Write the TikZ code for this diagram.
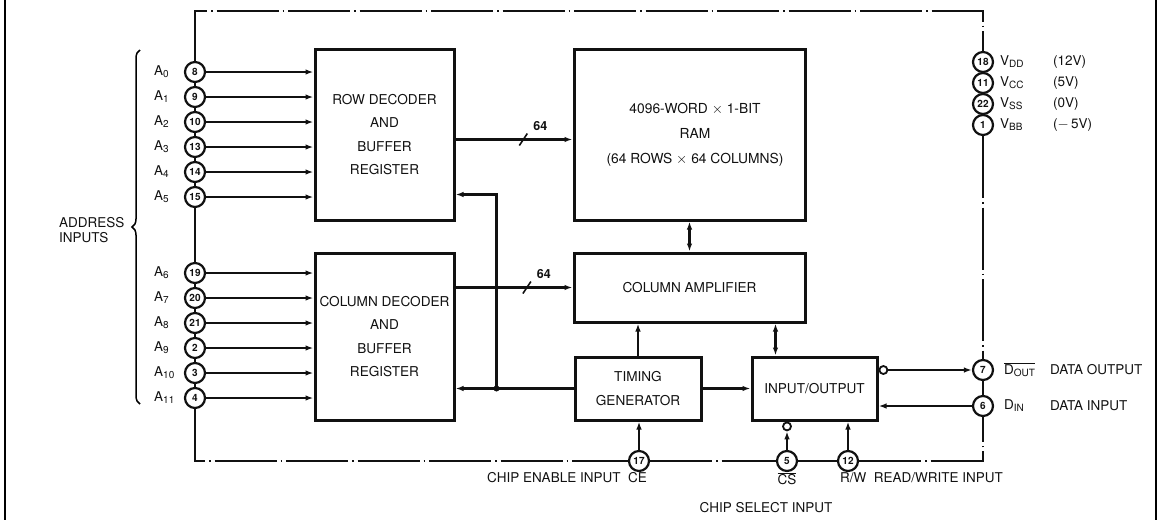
\documentclass[tikz,border=0pt]{standalone}
\usepackage{fontspec}
\setmainfont{TeX Gyre Heros}
\usepackage{tikz}
\usetikzlibrary{arrows.meta,positioning,calc,decorations.pathreplacing}
\definecolor{ink}{HTML}{111111}
\newcommand{\pinsub}[1]{\raisebox{-0.3ex}{\fontsize{10}{10}\selectfont #1}}
\tikzset{
  block/.style={draw=ink,line width=3pt,inner sep=0pt,align=center,font=\fontsize{13.6}{23.5}\selectfont},
  pin/.style={circle,draw=ink,line width=2.2pt,minimum size=20pt,inner sep=0pt,fill=white,font=\fontsize{10}{10}\selectfont\bfseries},
  lbl/.style={font=\fontsize{13.5}{15}\selectfont,inner sep=0pt},
  wire/.style={draw=ink,line width=2.1pt},
  pkg/.style={wire,dash pattern=on 62pt off 4pt on 1.5pt off 4pt},
  sig/.style={wire,-{Latex[length=8pt,width=5.5pt]}},
  both/.style={wire,{Latex[length=8pt,width=5.5pt]}-{Latex[length=8pt,width=5.5pt]}},
  bubble/.style={circle,draw=ink,line width=1.8pt,minimum size=8pt,inner sep=0pt,fill=white}
}
\begin{document}
\begin{tikzpicture}[x=1pt,y=-1pt,text=ink]
\useasboundingbox (0,0) rectangle (1164,520);
% frame
\draw[line width=2.4pt] (5,0) -- (5,520);
\draw[line width=2.4pt] (1156,0) -- (1156,520);

% blocks
\node[block,minimum width=139pt,minimum height=171pt] (rowdec) at (384.5,134.5) {ROW DECODER\\AND\\BUFFER\\REGISTER};
\node[block,minimum width=139pt,minimum height=167pt] (coldec) at (384.5,336.5) {COLUMN DECODER\\AND\\BUFFER\\REGISTER};
\node[block,minimum width=231pt,minimum height=171pt] (ram) at (689.5,134.5) {};
\node[lbl,align=center,font=\fontsize{13.8}{25}\selectfont] (ramtxt) at (695,135) {4096-WORD $\times$ 1-BIT\\RAM\\(64 ROWS $\times$ 64 COLUMNS)};
\node[block,minimum width=231pt,minimum height=69pt] (colamp) at (689.5,287.5) {COLUMN AMPLIFIER};
\node[block,minimum width=126pt,minimum height=63pt] (timing) at (638,388.5) {TIMING\\GENERATOR};
\node[block,minimum width=125pt,minimum height=63pt] (io) at (814.5,388.5) {INPUT/OUTPUT};

% address pins
\foreach \a/\n/\y in {0/8/72,1/9/97,2/10/122,3/13/147,4/14/172,5/15/197}{
  \node[pin] (p\n) at (195,\y) {\n};
  \node[lbl,anchor=west] (a\a) at (154,\y) {A\pinsub{\a}};
  \draw[sig] (p\n.east) -- (p\n -| rowdec.west);
}
\foreach \a/\n/\y in {6/19/273,7/20/298,8/21/323,9/2/348,10/3/373,11/4/398}{
  \node[pin] (p\n) at (195,\y) {\n};
  \node[lbl,anchor=west] (a\a) at (154,\y) {A\pinsub{\a}};
  \draw[sig] (p\n.east) -- (p\n -| coldec.west);
}
\foreach \u/\v in {8/9,9/10,10/13,13/14,14/15,19/20,20/21,21/2,2/3,3/4}
  \draw[wire] (p\u) -- (p\v);
\draw[decorate,decoration={brace,amplitude=8pt},line width=1.5pt] (140,404) -- (140,50);
\node[lbl,align=left,anchor=west] (addr) at (59,230) {ADDRESS\\INPUTS};

% power pins
\foreach \n/\y/\s/\v in {18/62/DD/(12V),11/83/CC/(5V),22/104/SS/(0V),1/125/BB/($-$\,5V)}{
  \node[pin] (p\n) at (983,\y) {\n};
  \node[lbl,anchor=west] (v\n) at (1000,\y) {V\pinsub{\s}};
  \node[lbl,anchor=west] (u\n) at (1053,\y) {\v};
}
\foreach \u/\v in {18/11,11/22,22/1}
  \draw[wire] (p\u) -- (p\v);

% data and control pins
\node[pin] (p7) at (983,370) {7};
\node[pin] (p6) at (983,406) {6};
\draw[wire] (p7) -- (p6);
\node[lbl,anchor=west] (dout) at (1004,370) {$\overline{\mbox{D\pinsub{OUT}}}$};
\node[lbl,anchor=west] (douttxt) at (1050,370) {DATA OUTPUT};
\node[lbl,anchor=west] (din) at (1004,406) {D\pinsub{IN}};
\node[lbl,anchor=west] (dintxt) at (1050,406) {DATA INPUT};
\node[pin] (p17) at (639,461) {17};
\node[pin] (p5) at (787,461) {5};
\node[pin] (p12) at (848,461) {12};
\node[lbl] (cetxt) at (567,478) {CHIP ENABLE INPUT\ \ CE};
\node[lbl] (cstxt) at (787,479) {$\overline{\mbox{CS}}$};
\node[lbl] (cssel) at (766,508) {CHIP SELECT INPUT};
\node[lbl,anchor=west] (rwtxt) at (840,478) {R/W\ \ READ/WRITE INPUT};

% package outline
\coordinate (ptl) at (195,11);
\coordinate (ptr) at (983,11);
\coordinate (pbl) at (195,461);
\coordinate (pbr) at (983,461);
\draw[pkg] (p8.north) -- (ptl) -- (ptr) -- (p18.north);
\draw[pkg] (p15.south) -- (p19.north);
\draw[pkg] (p1.south) -- (p7.north);
\draw[pkg] (p4.south) -- (pbl) -- (p17.west);
\draw[pkg] (p17.east) -- (p5.west);
\draw[pkg] (p5.east) -- (p12.west);
\draw[pkg] (p12.east) -- (pbr) -- (p6.south);

% internal connections
\draw[sig] ([yshift=-5pt]rowdec.east) -- ([yshift=-5pt]ram.west);
\coordinate (rbus) at ($([yshift=-5pt]rowdec.east)!0.58!([yshift=-5pt]ram.west)$);
\draw[wire,line width=1.6pt] ([shift={(-4,6)}]rbus) -- ++(8,-12);
\node[lbl,font=\fontsize{12.5}{13}\selectfont\bfseries] (rbusn) at ([shift={(17,-13)}]rbus) {64};
\draw[sig] (coldec.east |- colamp.west) -- (colamp.west);
\coordinate (cbus) at ($(coldec.east |- colamp.west)!0.61!(colamp.west)$);
\draw[wire,line width=1.6pt] ([shift={(-4,6)}]cbus) -- ++(8,-12);
\node[lbl,font=\fontsize{12.5}{13}\selectfont\bfseries] (cbusn) at ([shift={(17,-13)}]cbus) {64};

\coordinate (tap) at ($(timing.west)+(-77,0)$);
\draw[sig] (timing.west) -- (coldec.east |- timing.west);
\draw[sig] (tap) |- ([yshift=27pt]rowdec.south east);
\fill[ink] (tap) circle (3);
\draw[both] (ram.south) -- (ram.south |- colamp.north);
\draw[sig] (timing.north) -- (timing.north |- colamp.south);
\coordinate (ioup) at ([xshift=25pt]io.north west);
\draw[both] (ioup) -- (ioup |- colamp.south);
\draw[sig] (timing.east |- io.west) -- (io.west);
\draw[sig] (p17.north) -- (p17 |- timing.south);
\node[bubble,anchor=north] (csb) at (io.south -| p5) {};
\draw[sig] (p5.north) -- (csb.south);
\draw[sig] (p12.north) -- (p12 |- io.south);
\node[bubble,anchor=west] (outb) at (io.east |- p7) {};
\draw[sig] (outb.east) -- (p7.west);
\draw[sig] (p6.west) -- (p6 -| io.east);
\end{tikzpicture}
\end{document}
